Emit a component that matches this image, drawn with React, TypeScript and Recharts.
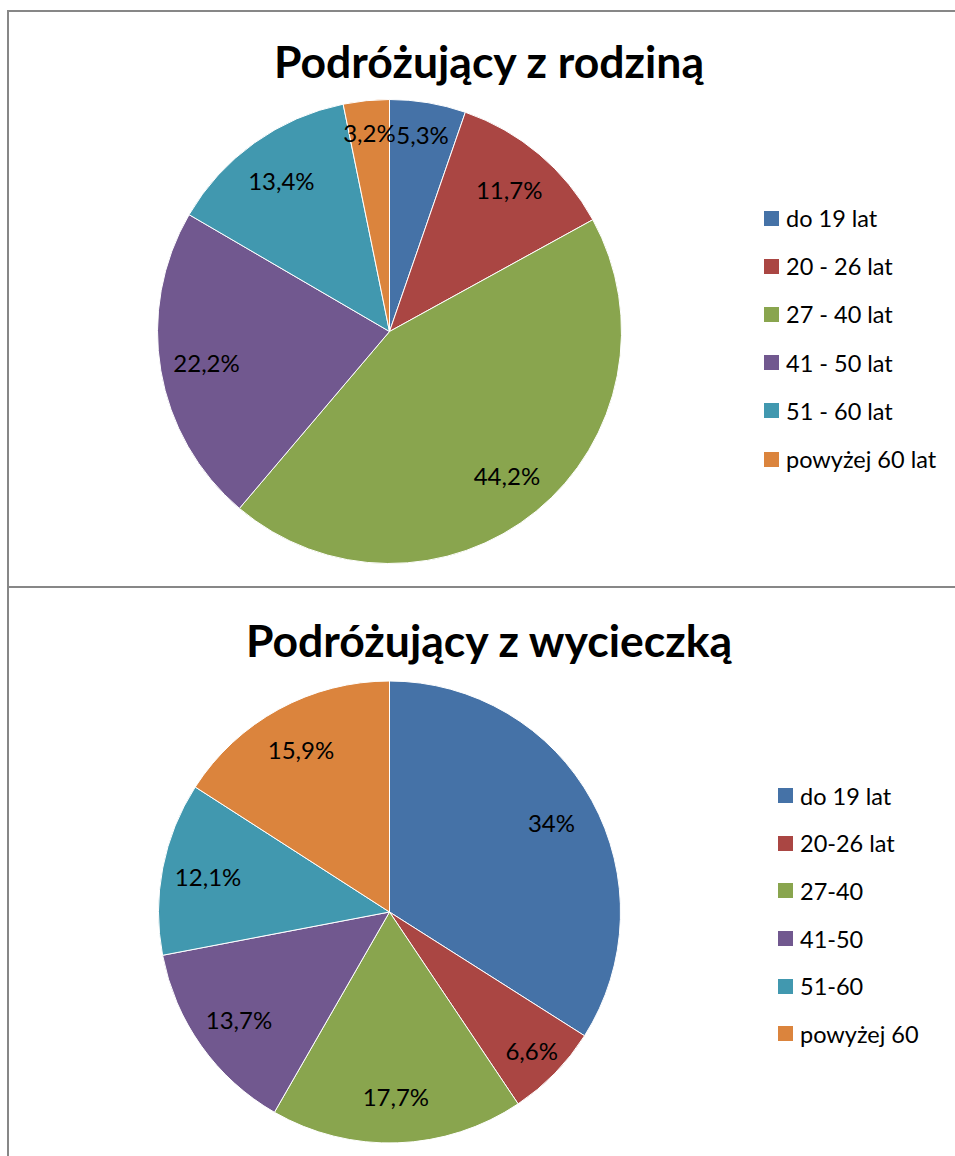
import React from "react";
import { PieChart, Pie, Cell, Legend } from "recharts";

const COLORS = ["#4572A7", "#AA4643", "#89A54E", "#71588F", "#4198AF", "#DB843D"];

const familyTitle = "Podróżujący z rodziną";
const familyNames = ["do 19 lat", "20 - 26 lat", "27 - 40 lat", "41 - 50 lat", "51 - 60 lat", "powyżej 60 lat"];
const familyValues = [5.3, 11.7, 44.2, 22.2, 13.4, 3.2];

const tripTitle = "Podróżujący z wycieczką";
const tripNames = ["do 19 lat", "20-26 lat", "27-40", "41-50", "51-60", "powyżej 60"];
const tripValues = [34, 6.6, 17.7, 13.7, 12.1, 15.9];

const FONT = "Lato, 'Open Sans', sans-serif";
const LINE = "#878787";
const RAD = Math.PI / 180;

const fmt = (v: number) => String(v).replace(".", ",") + "%";

const renderLabel = (props: any) => {
  const { cx, cy, midAngle, outerRadius, value } = props;
  const f = value < 10 ? 0.86 : 0.8;
  const r = outerRadius * f;
  const x = cx + r * Math.cos(-midAngle * RAD);
  const y = cy + r * Math.sin(-midAngle * RAD);
  return (
    <text
      x={x}
      y={y}
      fill="#000"
      textAnchor="middle"
      dominantBaseline="central"
      style={{ fontFamily: FONT, fontSize: 24 }}
    >
      {fmt(value)}
    </text>
  );
};

const makeLegend = (names: string[], rowGap: number, textGap: number) => () => (
  <div style={{ fontFamily: FONT, fontSize: 23.5, color: "#000" }}>
    {names.map((n, i) => (
      <div
        key={n}
        style={{ display: "flex", alignItems: "center", height: rowGap, whiteSpace: "nowrap" }}
      >
        <span
          style={{
            display: "inline-block",
            width: 15,
            height: 15,
            background: COLORS[i],
            marginRight: textGap,
          }}
        />
        <span>{n}</span>
      </div>
    ))}
  </div>
);

type PanelProps = {
  title: string;
  names: string[];
  values: number[];
  top: number;
  height: number;
  cy: number;
  radius: number;
  titleTop: number;
  legendLeft: number;
  legendTop: number;
  rowGap: number;
};

function Panel(p: PanelProps) {
  const data = p.names.map((n, i) => ({ name: n, value: p.values[i] }));
  return (
    <div style={{ position: "absolute", left: 0, top: p.top, width: 955, height: p.height }}>
      <div
        style={{
          position: "absolute",
          left: 0,
          width: 978,
          top: p.titleTop,
          textAlign: "center",
          fontFamily: FONT,
          fontWeight: 700,
          fontSize: 44.5,
          lineHeight: "50px",
          color: "#000",
          whiteSpace: "nowrap",
        }}
      >
        {p.title}
      </div>
      <div style={{ position: "absolute", left: 0, top: 0 }}>
        <PieChart width={955} height={p.height} margin={{ top: 0, right: 0, bottom: 0, left: 0 }}>
          <Pie
            data={data}
            dataKey="value"
            nameKey="name"
            cx={389.5}
            cy={p.cy}
            outerRadius={p.radius}
            startAngle={90}
            endAngle={-270}
            stroke="#ffffff"
            strokeWidth={1}
            label={renderLabel}
            labelLine={false}
            isAnimationActive={false}
          >
            {data.map((d, i) => (
              <Cell key={d.name} fill={COLORS[i]} />
            ))}
          </Pie>
          <Legend
            layout="vertical"
            content={makeLegend(p.names, p.rowGap, 7)}
            wrapperStyle={{ position: "absolute", left: p.legendLeft, top: p.legendTop, width: 200 }}
          />
        </PieChart>
      </div>
    </div>
  );
}

export default function App() {
  return (
    <div style={{ position: "absolute", left: 0, top: 0, width: 955, height: 1156, background: "#fff", overflow: "hidden" }}>
      <Panel
        title={familyTitle}
        names={familyNames}
        values={familyValues}
        top={0}
        height={587}
        cy={331.5}
        radius={232}
        titleTop={36}
        legendLeft={764}
        legendTop={194}
        rowGap={48.2}
      />
      <Panel
        title={tripTitle}
        names={tripNames}
        values={tripValues}
        top={587}
        height={569}
        cy={325}
        radius={231}
        titleTop={28}
        legendLeft={778}
        legendTop={185}
        rowGap={47.6}
      />
      <div style={{ position: "absolute", left: 7, top: 10, width: 948, height: 2, background: LINE }} />
      <div style={{ position: "absolute", left: 7, top: 10, width: 2, height: 1146, background: LINE }} />
      <div style={{ position: "absolute", left: 8, top: 586, width: 947, height: 2, background: LINE }} />
    </div>
  );
}
